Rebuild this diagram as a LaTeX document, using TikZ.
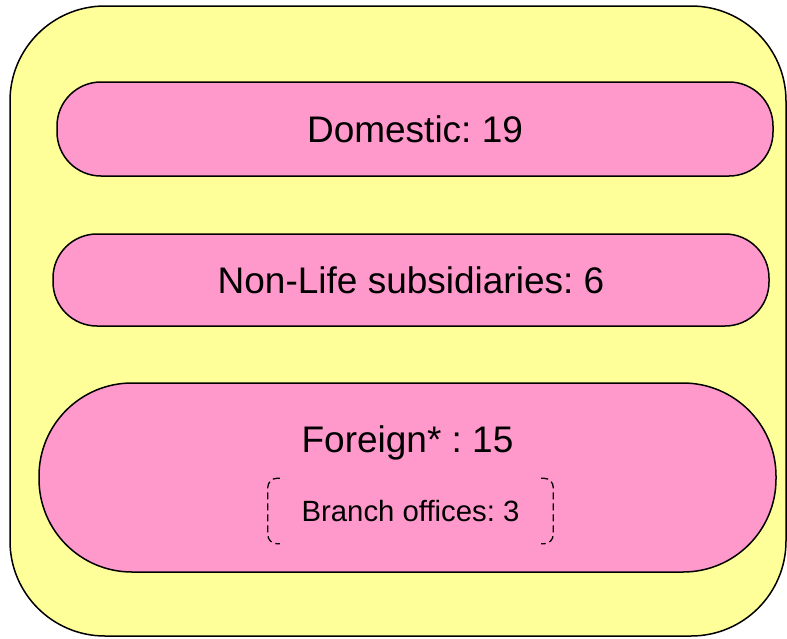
\documentclass[tikz,border=0pt]{standalone}
\usepackage{fontspec}
\setmainfont{Liberation Sans}
\frenchspacing
\definecolor{outerfill}{HTML}{FFFF99}
\definecolor{pinkfill}{HTML}{FF99CC}
\tikzset{
  frame/.style={draw=black, line width=1.5pt, fill=outerfill, inner sep=0pt},
  pill/.style={draw=black, line width=1.5pt, fill=pinkfill, inner sep=0pt, font=\fontsize{37}{40}\selectfont},
  subtext/.style={inner sep=0pt, font=\fontsize{29.3}{32}\selectfont},
  bracket/.style={draw=black, line width=1.3pt, dash pattern=on 7pt off 4pt, rounded corners=9pt}
}
\begin{document}
\begin{tikzpicture}[x=1pt,y=-1pt]
\useasboundingbox (0,0) rectangle (787,638);
\node[frame, minimum width=776pt, minimum height=630pt, rounded corners=95pt] (outer) at (398,321) {};
\node[pill, minimum width=716pt, minimum height=94pt, rounded corners=44pt] (dom) at (415,129) {Domestic: 19};
\node[pill, minimum width=716pt, minimum height=92pt, rounded corners=44pt] (nonlife) at (411,280) {Non-Life subsidiaries: 6};
\node[pill, minimum width=737pt, minimum height=189pt, rounded corners=93pt] (foreign) at (407.5,477.5) {};
\node[pill, draw=none, fill=none] (ftext) at (407.5,443) {Foreign* : 15};
\node[subtext, minimum width=285pt, minimum height=65pt] (branch) at (410.5,511) {Branch offices: 3};
\draw[bracket] ([xshift=12pt]branch.north west) -- (branch.north west) -- (branch.south west) -- ([xshift=12pt]branch.south west);
\draw[bracket] ([xshift=-12pt]branch.north east) -- (branch.north east) -- (branch.south east) -- ([xshift=-12pt]branch.south east);
\end{tikzpicture}
\end{document}
